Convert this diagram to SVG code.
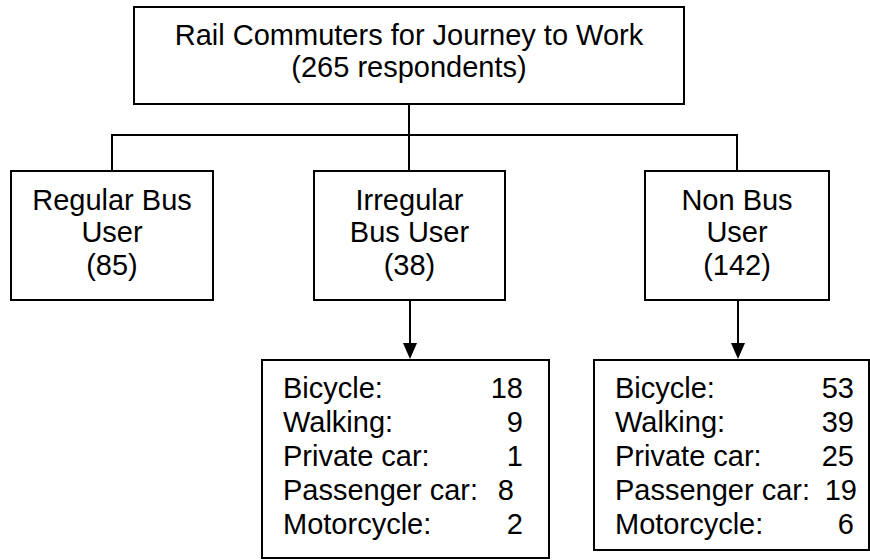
<svg xmlns="http://www.w3.org/2000/svg" width="870" height="560" viewBox="0 0 870 560">
<style>
.box{fill:#fff;stroke:#000;stroke-width:2}
.ln{fill:none;stroke:#000;stroke-width:2}
.ah{fill:#000}
text{font-family:"Liberation Sans",Arial,sans-serif;font-size:29px;fill:#000}
.c{text-anchor:middle}
.e{text-anchor:end}
</style>
<g id="connectors">
<line class="ln" x1="409" y1="104" x2="409" y2="171"/>
<line class="ln" x1="112" y1="135" x2="737" y2="135"/>
<line class="ln" x1="112" y1="134" x2="112" y2="171"/>
<line class="ln" x1="737" y1="134" x2="737" y2="171"/>
<line class="ln" x1="410" y1="300" x2="410" y2="344"/>
<path class="ah" d="M403,343 L417,343 L410,359 Z"/>
<line class="ln" x1="738" y1="300" x2="738" y2="344"/>
<path class="ah" d="M731,343 L745,343 L738,359 Z"/>
</g>
<g id="root">
<rect class="box" x="134" y="7" width="550" height="97"/>
<text class="c" x="409" y="45">Rail Commuters for Journey to Work</text>
<text class="c" x="409" y="77">(265 respondents)</text>
</g>
<g id="regular">
<rect class="box" x="11" y="171" width="202" height="129"/>
<text class="c" x="112" y="210">Regular Bus</text>
<text class="c" x="112" y="242">User</text>
<text class="c" x="112" y="275">(85)</text>
</g>
<g id="irregular">
<rect class="box" x="314" y="171" width="191" height="129"/>
<text class="c" x="409.5" y="210">Irregular</text>
<text class="c" x="409.5" y="242">Bus User</text>
<text class="c" x="409.5" y="275">(38)</text>
</g>
<g id="nonbus">
<rect class="box" x="645" y="171" width="184" height="129"/>
<text class="c" x="737" y="210">Non Bus</text>
<text class="c" x="737" y="242">User</text>
<text class="c" x="737" y="275">(142)</text>
</g>
<g id="irregular-modes">
<rect class="box" x="262" y="360" width="287" height="198"/>
<text x="283" y="398">Bicycle:</text><text class="e" x="523" y="398">18</text>
<text x="283" y="432">Walking:</text><text class="e" x="523" y="432">9</text>
<text x="283" y="466">Private car:</text><text class="e" x="523" y="466">1</text>
<text x="283" y="500">Passenger car:</text><text class="e" x="514" y="500">8</text>
<text x="283" y="534">Motorcycle:</text><text class="e" x="523" y="534">2</text>
</g>
<g id="nonbus-modes">
<rect class="box" x="594" y="360" width="275" height="190"/>
<text x="615" y="398">Bicycle:</text><text class="e" x="854" y="398">53</text>
<text x="615" y="432">Walking:</text><text class="e" x="854" y="432">39</text>
<text x="615" y="466">Private car:</text><text class="e" x="854" y="466">25</text>
<text x="615" y="500">Passenger car:</text><text class="e" x="857" y="500">19</text>
<text x="615" y="534">Motorcycle:</text><text class="e" x="854" y="534">6</text>
</g>
</svg>
